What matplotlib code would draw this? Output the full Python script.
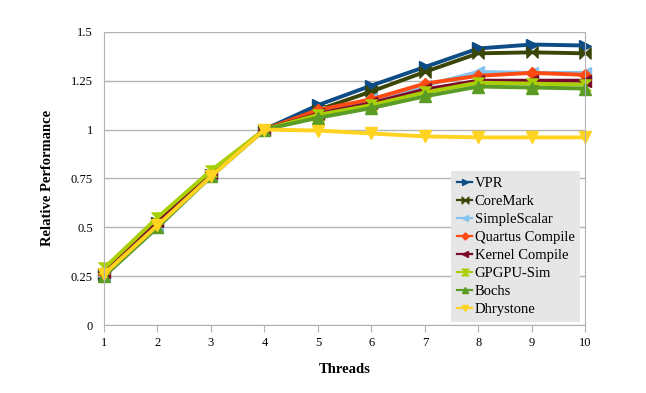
import matplotlib.pyplot as plt
from matplotlib.path import Path

threads = [1, 2, 3, 4, 5, 6, 7, 8, 9, 10]

vpr = [0.26, 0.52, 0.77, 1.0, 1.125, 1.225, 1.32, 1.415, 1.435, 1.43]
coremark = [0.26, 0.52, 0.77, 1.0, 1.10, 1.195, 1.295, 1.39, 1.395, 1.39]
simplescalar = [0.25, 0.50, 0.76, 1.0, 1.09, 1.155, 1.225, 1.295, 1.29, 1.29]
quartus = [0.26, 0.52, 0.77, 1.0, 1.10, 1.155, 1.235, 1.275, 1.29, 1.28]
kernel = [0.27, 0.53, 0.78, 1.0, 1.08, 1.135, 1.205, 1.25, 1.25, 1.25]
gpgpu = [0.29, 0.55, 0.79, 1.0, 1.075, 1.125, 1.19, 1.24, 1.235, 1.23]
bochs = [0.25, 0.50, 0.76, 1.0, 1.06, 1.11, 1.17, 1.22, 1.215, 1.21]
dhrystone = [0.26, 0.51, 0.76, 1.0, 0.995, 0.98, 0.965, 0.96, 0.96, 0.96]

names = ["VPR", "CoreMark", "SimpleScalar", "Quartus Compile", "Kernel Compile",
         "GPGPU-Sim", "Bochs", "Dhrystone"]
series = [vpr, coremark, simplescalar, quartus, kernel, gpgpu, bochs, dhrystone]
colors = ["#0e4c86", "#3a4608", "#86c4f0", "#ff4a12", "#7b0a2a", "#a9cf05", "#5a9c26", "#ffd320"]

# custom markers: bowtie (horizontal) and hourglass (vertical)
bowtie = Path([(-1, -1), (0, 0), (-1, 1), (-1, -1), (1, -1), (0, 0), (1, 1), (1, -1)],
              [1, 2, 2, 79, 1, 2, 2, 79])
hourglass = Path([(-1, 1), (0, 0), (1, 1), (-1, 1), (-1, -1), (0, 0), (1, -1), (-1, -1)],
                 [1, 2, 2, 79, 1, 2, 2, 79])
markers = [">", bowtie, "<", "D", "<", hourglass, "^", "v"]
sizes = [8, 8, 8, 6, 8, 8, 8, 8]

plt.rcParams['font.family'] = ['Liberation Serif', 'DejaVu Serif']

fig = plt.figure(figsize=(6.46, 3.93), dpi=100)
ax = fig.add_axes([0.161, 0.173, 0.745, 0.746])

for s, n, c, m, ms in zip(series, names, colors, markers, sizes):
    ax.plot(threads, s, color=c, linewidth=2.8, marker=m, markersize=ms,
            markeredgecolor=c, label=n, clip_on=False)

ax.set_xlim(1, 10)
ax.set_ylim(0, 1.5)
ax.set_xticks(threads)
ax.set_yticks([0, 0.25, 0.5, 0.75, 1, 1.25, 1.5])
ax.set_yticklabels(["0", "0.25", "0.5", "0.75", "1", "1.25", "1.5"])
ax.tick_params(axis='both', labelsize=9, color='#b3b3b3', length=5)
ax.tick_params(axis='y', length=0, pad=8)
ax.grid(axis='y', color='#b3b3b3', linewidth=1)
ax.set_axisbelow(True)
for sp in ["left", "bottom", "right"]:
    ax.spines[sp].set_color('#b3b3b3')
ax.spines["top"].set_visible(False)

ax.set_xlabel("Threads", fontweight='bold', fontsize=10.5, labelpad=10)
ax.set_ylabel("Relative Performance", fontweight='bold', fontsize=10.5, labelpad=12)

leg = ax.legend(loc='lower right', bbox_to_anchor=(0.99, 0.01), borderaxespad=0,
                fontsize=10.5, facecolor='#e6e6e6', edgecolor='none', framealpha=1,
                fancybox=False, handlelength=1.0, handletextpad=0.2, labelspacing=0.33,
                borderpad=0.4, markerscale=0.6)
leg.set_zorder(5)
for line in leg.get_lines():
    line.set_linewidth(1.6)

fig.savefig("out.png", dpi=100)
